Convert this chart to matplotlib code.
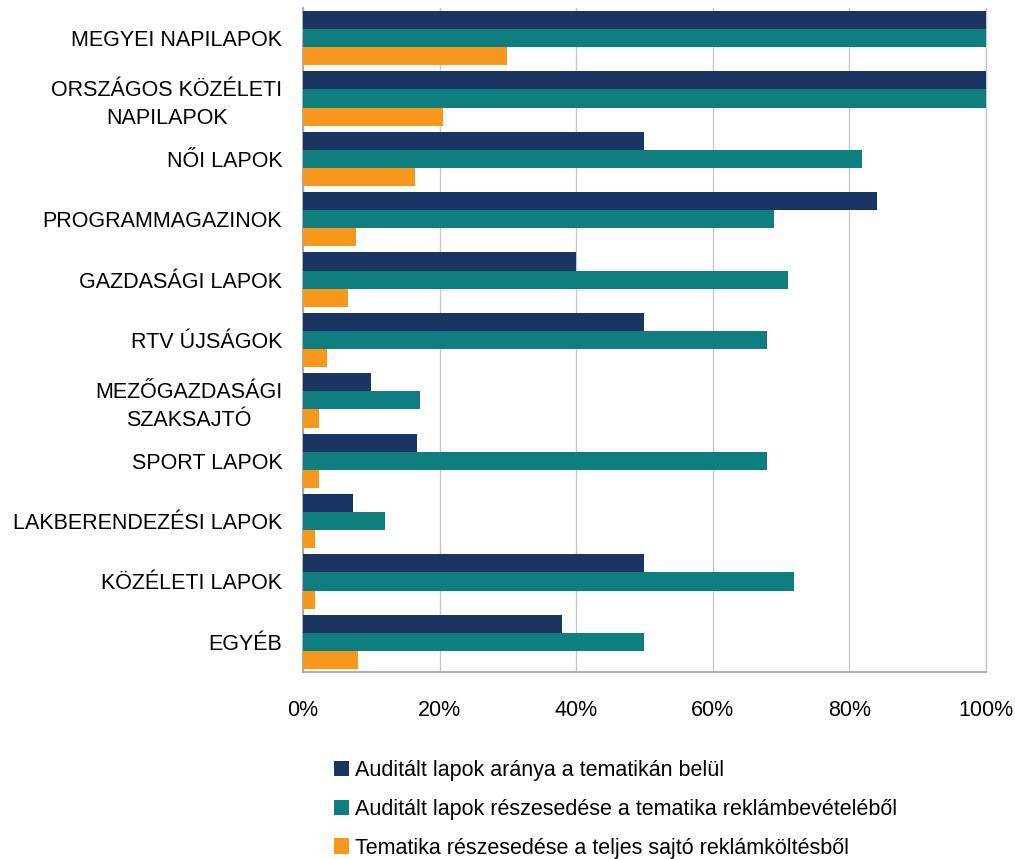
import numpy as np
import matplotlib.pyplot as plt
from matplotlib.ticker import PercentFormatter

categories = ["MEGYEI NAPILAPOK", "ORSZÁGOS KÖZÉLETI\nNAPILAPOK", "NŐI LAPOK",
              "PROGRAMMAGAZINOK", "GAZDASÁGI LAPOK", "RTV ÚJSÁGOK",
              "MEZŐGAZDASÁGI\nSZAKSAJTÓ", "SPORT LAPOK", "LAKBERENDEZÉSI LAPOK",
              "KÖZÉLETI LAPOK", "EGYÉB"]
audited_ratio = [100, 100, 50, 84, 40, 50, 10, 16.7, 7.3, 50, 37.9]
audited_share = [100, 100, 81.8, 69, 71, 68, 17.1, 68, 12, 71.9, 50]
theme_share = [29.9, 20.5, 16.4, 7.8, 6.6, 3.5, 2.3, 2.3, 1.8, 1.8, 8]
series_names = ["Auditált lapok aránya a tematikán belül",
                "Auditált lapok részesedése a tematika reklámbevételéből",
                "Tematika részesedése a teljes sajtó reklámköltésből"]
colors = ["#1B3563", "#0E7F7E", "#F7981D"]

plt.rcParams['font.family'] = ['Liberation Sans', 'DejaVu Sans']

fig = plt.figure(figsize=(10.15, 8.59), dpi=100)
ax = fig.add_axes([0.2985, 0.2177, 0.6729, 0.7730])

y = np.arange(len(categories))
h = 0.3
for i, vals in enumerate([audited_ratio, audited_share, theme_share]):
    ax.barh(y + (i - 1) * h, vals, height=h, color=colors[i], label=series_names[i], zorder=3)

ax.set_ylim(len(categories) - 0.5, -0.5)
ax.set_xlim(0, 100)
ax.set_xticks(np.arange(0, 101, 20))
ax.xaxis.set_major_formatter(PercentFormatter(decimals=0))
ax.set_yticks(y)
ax.set_yticklabels(categories, multialignment='center', linespacing=1.45)
ax.tick_params(axis='both', length=0, labelsize=15.5)
ax.tick_params(axis='y', pad=15)
ax.tick_params(axis='x', pad=20)
ax.grid(axis='x', color='#C8C8C8', lw=1, zorder=0)
for s in ['top', 'right']:
    ax.spines[s].set_visible(False)
for s in ['left', 'bottom']:
    ax.spines[s].set_color('#A0A0A0')
    ax.spines[s].set_linewidth(1.2)
ax.axvline(100, color='#C8C8C8', lw=1, zorder=0, clip_on=False)

fig.legend(loc='upper left', bbox_to_anchor=(0.321, 0.125), frameon=False,
           fontsize=15.5, handlelength=0.7, handleheight=0.7, handletextpad=0.25,
           labelspacing=0.82, borderaxespad=0)

fig.savefig("out.png", dpi=100)
